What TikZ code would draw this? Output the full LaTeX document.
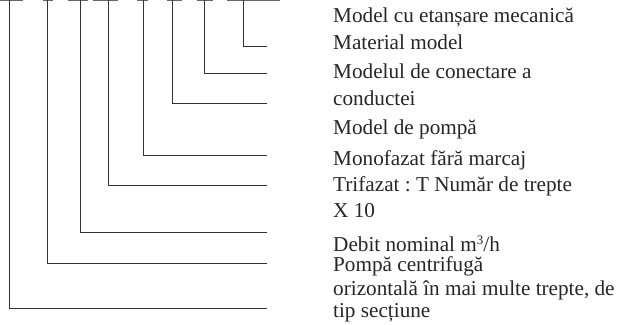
\documentclass[tikz,border=0pt]{standalone}
\usepackage{fontspec}
\setmainfont{Liberation Serif}
\frenchspacing
\begin{document}
\begin{tikzpicture}[x=1pt, y=-1pt,
		every node/.style={font=\fontsize{21.2}{24}\selectfont},
		texto/.style={anchor=base west, inner sep=0pt, text=black!85},
		guia/.style={draw=black!80, line width=0.8pt},
		raya/.style={draw=black!60, line width=1.2pt}]
	\useasboundingbox (0,0) rectangle (620,324);
	% rayas de arriba
	\foreach \a/\b in {0/23, 43/53, 68/88, 93/118, 137/148, 167/182, 197/213, 227/280}
		\draw[raya] (\a,0.8) -- (\b,0.8);
	% puntos de arranque y de llegada
	\coordinate (t1) at (9,0);   \coordinate (f1) at (267,308);
	\coordinate (t2) at (47,0);  \coordinate (f2) at (267,263);
	\coordinate (t3) at (80,0);  \coordinate (f3) at (267,232);
	\coordinate (t4) at (108,0); \coordinate (f4) at (267,185);
	\coordinate (t5) at (143,0); \coordinate (f5) at (267,155);
	\coordinate (t6) at (172,0); \coordinate (f6) at (267,103);
	\coordinate (t7) at (204,0); \coordinate (f7) at (267,73);
	\coordinate (t8) at (243,0); \coordinate (f8) at (267,46);
	\foreach \i in {1,...,8}
		\draw[guia] (t\i) |- (f\i);
	% textos
	\node[texto] (L1)  at (333,22)  {Model cu etanșare mecanică};
	\node[texto] (L2)  at (333,49)  {Material model};
	\node[texto] (L3)  at (333,78)  {Modelul de conectare a};
	\node[texto] (L4)  at (333,105) {conductei};
	\node[texto] (L5)  at (333,134) {Model de pompă};
	\node[texto] (L6)  at (333,165) {Monofazat fără marcaj};
	\node[texto] (L7)  at (333,191) {Trifazat : T Număr de trepte};
	\node[texto] (L8)  at (333,217) {X 10};
	\node[texto] (L9)  at (333,251) {Debit nominal m\raisebox{0.62ex}{\fontsize{13}{13}\selectfont 3}/h};
	\node[texto] (L10) at (333,271) {Pompă centrifugă};
	\node[texto] (L11) at (333,295) {orizontală în mai multe trepte, de};
	\node[texto] (L12) at (333,317) {tip secțiune};
\end{tikzpicture}
\end{document}
